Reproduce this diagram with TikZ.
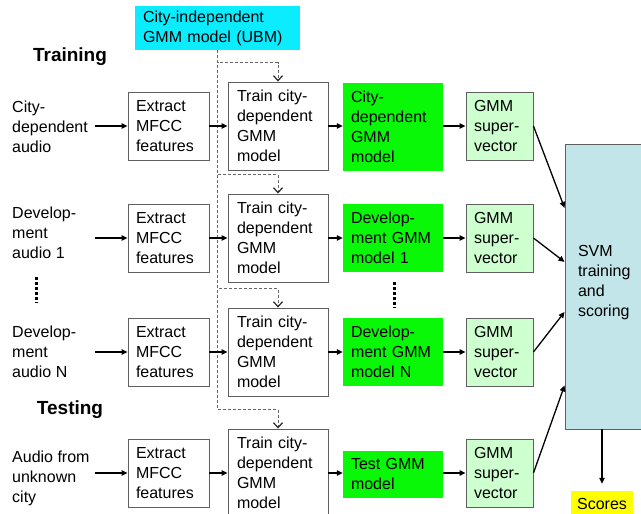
\documentclass[tikz,border=0pt]{standalone}
\usepackage{fontspec}
\setmainfont{Liberation Sans}
\usetikzlibrary{arrows.meta,calc}
\definecolor{ubmc}{RGB}{12,236,255}
\definecolor{gbright}{RGB}{8,248,8}
\definecolor{svgreen}{RGB}{206,255,206}
\definecolor{svmc}{RGB}{193,229,232}
\definecolor{yel}{RGB}{255,255,0}
\definecolor{bord}{RGB}{95,95,95}
\newcommand{\fs}{\fontsize{16}{20}\selectfont}
\newcommand{\hfs}{\fontsize{19}{22}\selectfont\bfseries}
\begin{document}
\begin{tikzpicture}[x=1pt,y=-1pt,
  box/.style={draw=bord, line width=0.9pt, fill=white, align=left, inner xsep=8pt, inner ysep=0pt, font=\fs},
  ext/.style={box, text width=65pt, minimum height=68pt},
  trn/.style={box, inner xsep=9pt, text width=82pt, minimum height=88pt},
  grn/.style={fill=gbright, draw=none, align=left, inner xsep=8pt, inner ysep=0pt, text width=84pt, font=\fs},
  sv/.style={box, fill=svgreen, text width=51pt, minimum height=68pt},
  lab/.style={anchor=west, align=left, inner sep=0pt, font=\fs},
  hdr/.style={inner sep=0pt, font=\hfs},
  arr/.style={line width=1.3pt, -{Triangle[length=6pt,width=5.5pt]}},
  dsh/.style={draw=black!60, line width=0.9pt, dash pattern=on 3pt off 2pt, -{Straight Barb[length=5pt,width=9pt,line width=1.2pt,color=black!85]}},
  dts/.style={line width=3pt, dash pattern=on 3pt off 2pt}
]
\useasboundingbox (0,0) rectangle (641,514);
\fill[white] (0,0) rectangle (641,514);

% UBM and headings
\node[fill=ubmc, align=left, inner xsep=8pt, inner ysep=0pt, text width=149pt, minimum height=44pt, font=\fs] (ubm) at (217.5,28) {City-independent\\GMM model (UBM)};
\node[hdr] (trnh) at (70,57) {Training};
\node[hdr] (tsth) at (70,410) {Testing};

% left labels
\node[lab] (l1) at (12,127) {City-\\dependent\\audio};
\node[lab] (l2) at (12,233) {Develop-\\ment\\audio 1};
\node[lab] (l3) at (12,352) {Develop-\\ment\\audio N};
\node[lab] (l4) at (12,478) {Audio from\\unknown\\city};
\coordinate (s1) at (95,126);
\coordinate (s2) at (95,238);
\coordinate (s3) at (95,352);
\coordinate (s4) at (95,473);

% row 1
\node[ext] (e1) at (168.5,126) {Extract\\MFCC\\features};
\node[trn] (t1) at (278,126) {Train city-\\dependent\\GMM\\model};
\node[grn, minimum height=88pt] (g1) at (393,127) {City-\\dependent\\GMM\\model};
\node[sv] (v1) at (499.5,126) {GMM\\super-\\vector};
% row 2
\node[ext] (e2) at (168.5,238) {Extract\\MFCC\\features};
\node[trn] (t2) at (278,238) {Train city-\\dependent\\GMM\\model};
\node[grn, minimum height=68pt] (g2) at (393,238) {Develop-\\ment GMM\\model 1};
\node[sv] (v2) at (499.5,238) {GMM\\super-\\vector};
% row 3
\node[ext] (e3) at (168.5,352) {Extract\\MFCC\\features};
\node[trn] (t3) at (278,352) {Train city-\\dependent\\GMM\\model};
\node[grn, minimum height=68pt] (g3) at (393,352) {Develop-\\ment GMM\\model N};
\node[sv] (v3) at (499.5,352) {GMM\\super-\\vector};
% row 4
\node[ext] (e4) at (168.5,473) {Extract\\MFCC\\features};
\node[trn] (t4) at (278,473) {Train city-\\dependent\\GMM\\model};
\node[grn, minimum height=47pt] (g4) at (393,474) {Test GMM\\model};
\node[sv] (v4) at (499.5,473) {GMM\\super-\\vector};

% SVM and scores
\node[draw=bord, line width=0.9pt, fill=svmc, align=left, inner xsep=13pt, inner ysep=0pt, text width=69pt, minimum height=285pt, font=\fs] (svm) at (612.5,286.5) {SVM\\training\\and\\scoring\\[-8pt]\mbox{}};
\node[fill=yel, inner sep=0pt, minimum width=62pt, minimum height=25pt, font=\fs] (scores) at (602,503.5) {Scores};

% dashed UBM feeds
\draw[dsh] (ubm.south) |- ($(t1.north)+(0,-19)$) -- (t1.north);
\draw[dsh] (ubm.south) |- ($(t2.north)+(0,-19)$) -- (t2.north);
\draw[dsh] (ubm.south) |- ($(t3.north)+(0,-19)$) -- (t3.north);
\draw[dsh] (ubm.south) |- ($(t4.north)+(0,-19)$) -- (t4.north);

% row arrows
\foreach \i in {1,2,3,4}{
  \draw[arr] (s\i) -- (e\i.west |- s\i);
  \draw[arr] (e\i.east) -- (e\i.east -| t\i.west);
  \draw[arr] (t\i.east |- e\i.east) -- (g\i.west |- e\i.east);
  \draw[arr] (g\i.east |- e\i.east) -- (v\i.west |- e\i.east);
}

% to SVM
\draw[arr] (v1.east) -- ($(svm.north west)!0.225!(svm.south west)$);
\draw[arr] (v2.east) -- ($(svm.north west)!0.414!(svm.south west)$);
\draw[arr] (v3.east) -- ($(svm.north west)!0.589!(svm.south west)$);
\draw[arr] (v4.east) -- ($(svm.north west)!0.846!(svm.south west)$);
\draw[arr, shorten >=7pt] (svm.south -| scores.north) -- (scores.north);

% ellipsis dots
\coordinate (da) at (36,277);
\coordinate (db) at (36,303);
\coordinate (dc) at (394,282);
\coordinate (dd) at (394,308);
\draw[dts] (da) -- (db);
\draw[dts] (dc) -- (dd);
\end{tikzpicture}
\end{document}
